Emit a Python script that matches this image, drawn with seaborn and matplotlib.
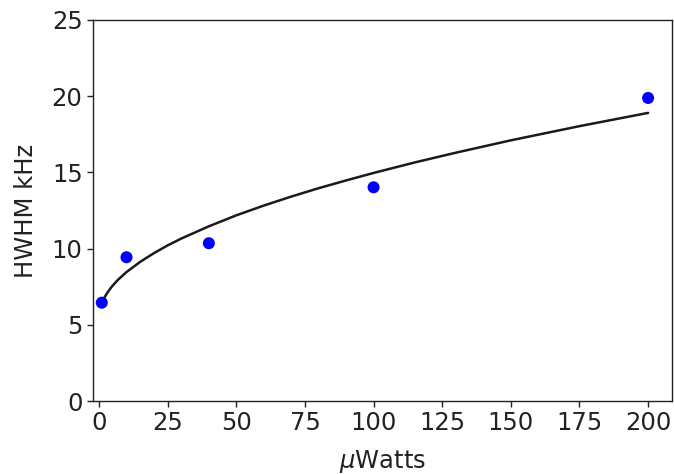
import matplotlib
matplotlib.use("Agg")
import matplotlib.pyplot as plt
import seaborn as sns
import pandas as pd

# Measured points
power_uw = [1, 10, 40, 100, 200]
hwhm_khz = [6.45, 9.43, 10.35, 14.02, 19.88]

# Fit curve
fit_x = [1, 1.5, 2, 3, 4, 5, 7, 10, 15, 20, 25, 30, 40, 50, 60, 70, 80, 90, 100,
         115, 130, 150, 175, 200]
fit_y = [6.40, 6.62, 6.80, 7.10, 7.35, 7.58, 7.97, 8.46, 9.13, 9.70, 10.21, 10.66,
         11.46, 12.18, 12.82, 13.41, 13.96, 14.47, 14.96, 15.65, 16.29, 17.10,
         18.03, 18.90]

x_ticks = [0, 25, 50, 75, 100, 125, 150, 175, 200]
y_ticks = [0, 5, 10, 15, 20, 25]

sns.set_theme(style="ticks")
plt.rcParams['font.family'] = ['DejaVu Sans']

fig = plt.figure(figsize=(6.74, 4.74), dpi=100)
ax = fig.add_axes([0.138, 0.154, 0.859, 0.804])

pts = pd.DataFrame({"x": power_uw, "y": hwhm_khz})
fit = pd.DataFrame({"x": fit_x, "y": fit_y})

sns.lineplot(data=fit, x="x", y="y", ax=ax, color="#1a1a1a", linewidth=1.8, sort=True)
sns.scatterplot(data=pts, x="x", y="y", ax=ax, color="blue", s=75, edgecolor="none", zorder=3)

ax.set_xlim(-2.2, 208.7)
ax.set_ylim(0, 25)
ax.set_xticks(x_ticks)
ax.set_yticks(y_ticks)
ax.tick_params(labelsize=17.5, length=4, width=1, color="#222222", labelcolor="#222222")
ax.set_xlabel(r"$\mu$Watts", fontsize=17.5, color="#222222", labelpad=9)
ax.set_ylabel("HWHM kHz", fontsize=17.5, color="#222222", labelpad=10)
for s in ax.spines.values():
    s.set_color("#222222")
    s.set_linewidth(1.0)

fig.savefig("out.png", dpi=100)
